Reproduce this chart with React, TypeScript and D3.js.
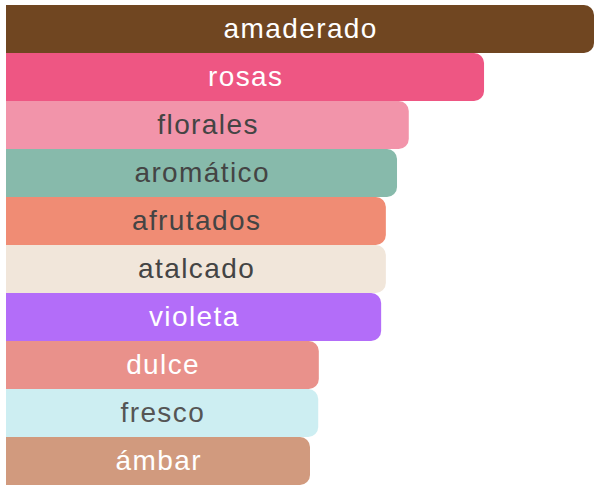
import { useEffect, useRef } from 'react';
import * as d3 from 'd3';

const categories = ['amaderado', 'rosas', 'florales', 'aromático', 'afrutados', 'atalcado', 'violeta', 'dulce', 'fresco', 'ámbar'];
const values = [100, 81.3, 68.5, 66.5, 64.6, 64.6, 63.8, 53.2, 53.1, 51.7];
const colors = ['#704621', '#ee5683', '#f294aa', '#87baab', '#f08c74', '#f1e6da', '#b36df9', '#e9918b', '#cdeef2', '#d19a7e'];
const textColors = ['#ffffff', '#ffffff', '#444444', '#444444', '#444444', '#444444', '#ffffff', '#ffffff', '#555555', '#ffffff'];

const App = () => {
  const ref = useRef<SVGSVGElement>(null!);
  const width = 604;
  const height = 496;

  useEffect(() => {
    const svg = d3.select(ref.current);
    svg.selectAll('*').remove();

    const x = d3.scaleLinear().domain([0, 100]).range([6, 594]);
    const y = d3.scaleBand<string>().domain(categories).range([5, 485]).padding(0);
    const r = 10;

    const barPath = (w: number, h: number) => {
      const p = d3.path();
      p.moveTo(0, 0);
      p.lineTo(w - r, 0);
      p.arcTo(w, 0, w, r, r);
      p.lineTo(w, h - r);
      p.arcTo(w, h, w - r, h, r);
      p.lineTo(0, h);
      p.closePath();
      return p.toString();
    };

    const rows = svg
      .selectAll('g.row')
      .data(categories)
      .enter()
      .append('g')
      .attr('class', 'row')
      .attr('transform', d => `translate(${x(0)},${y(d)})`);

    rows
      .append('path')
      .attr('d', (_, i) => barPath(x(values[i]) - x(0), y.bandwidth()))
      .attr('fill', (_, i) => colors[i]);

    rows
      .append('text')
      .attr('x', (_, i) => (x(values[i]) - x(0)) / 2 + 0.7)
      .attr('y', y.bandwidth() / 2)
      .attr('dy', '0.33em')
      .attr('text-anchor', 'middle')
      .attr('font-family', '"Liberation Sans", Arial, sans-serif')
      .attr('font-size', 28)
      .attr('letter-spacing', 1.4)
      .attr('fill', (_, i) => textColors[i])
      .text(d => d);
  }, []);

  return (
    <svg
      ref={ref}
      width={width}
      height={height}
      style={{ position: 'absolute', left: 0, top: 0, display: 'block' }}
    />
  );
};

export default App;
